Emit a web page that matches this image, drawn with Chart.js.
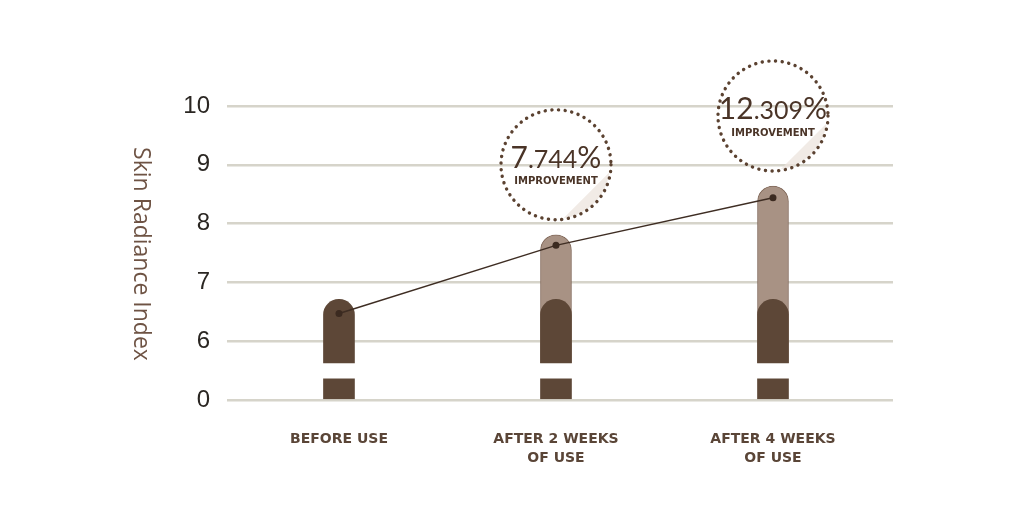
<!DOCTYPE html>
<html>
<head>
<meta charset="utf-8">
<script src="https://cdn.jsdelivr.net/npm/chart.js@4"></script>
<style>
  html, body { margin: 0; padding: 0; background: #fff; }
  #wrap { width: 1024px; height: 521px; }
</style>
</head>
<body>
<div id="wrap"><canvas id="myChart" width="1024" height="521"></canvas></div>
<script>
// data
const categories = [['BEFORE USE'], ['AFTER 2 WEEKS', 'OF USE'], ['AFTER 4 WEEKS', 'OF USE']];
const baselineTop = [6.71, 6.71, 6.71];      // dark part of each bar
const resultTop = [null, 7.81, 8.64];        // light part (after use)
const lineValues = [6.47, 7.63, 8.44];       // dots joined by the line
const improvements = [null, ['7', '.744', '%'], ['12', '.309', '%']];
const yTickLabels = ['0', '6', '7', '8', '9', '10'];

// broken axis: 0 sits one step below 6
const toAxis = v => (v === 0 ? 0 : v - 5);
const STUB_TOP = 0.36;     // short piece under the break
const BREAK_TOP = 0.63;    // where the upper piece starts

const DARK = '#5d4737';
const LIGHT = '#a89284';
const TEXT = '#4a3427';

const round = { topLeft: 16, topRight: 16, bottomLeft: 0, bottomRight: 0 };

const lightBars = resultTop.map((v, i) => v == null ? null : ({ x: i, y: [BREAK_TOP, toAxis(v)] })).filter(Boolean);
const darkBars = baselineTop.map((v, i) => ({ x: i, y: [BREAK_TOP, toAxis(v)] }));
const stubBars = categories.map((c, i) => ({ x: i, y: [0, STUB_TOP] }));
const linePts = lineValues.map((v, i) => ({ x: i, y: toAxis(v) }));

// rotated y title + dotted circles
const extras = {
  id: 'extras',
  afterDraw(chart) {
    const ctx = chart.ctx;
    const xs = chart.scales.x, ys = chart.scales.y;

    ctx.save();
    ctx.translate(141, 254);
    ctx.rotate(Math.PI / 2);
    ctx.fillStyle = '#6e5344';
    ctx.font = '23px "Open Sans"';
    ctx.textAlign = 'center';
    ctx.textBaseline = 'middle';
    ctx.fillText('Skin Radiance Index', 0, 0);
    ctx.restore();

    improvements.forEach((parts, i) => {
      if (!parts) return;
      const cx = xs.getPixelForValue(i);
      const cy = ys.getPixelForValue(toAxis(resultTop[i])) - 70;
      const r = 55;

      // light sheen in lower right
      ctx.save();
      ctx.beginPath();
      ctx.arc(cx, cy, r - 1, 0, Math.PI * 2);
      ctx.clip();
      ctx.beginPath();
      ctx.moveTo(cx + 2, cy + r + 4);
      ctx.lineTo(cx + r + 4, cy + 2);
      ctx.lineTo(cx + r + 30, cy + r + 30);
      ctx.closePath();
      ctx.fillStyle = 'rgba(236, 228, 222, 0.75)';
      ctx.fill();
      ctx.restore();

      // dotted ring
      ctx.save();
      ctx.beginPath();
      ctx.arc(cx, cy, r, 0, Math.PI * 2);
      ctx.strokeStyle = '#5b4231';
      ctx.lineWidth = 3.4;
      ctx.lineCap = 'round';
      ctx.setLineDash([0.1, 6.6]);
      ctx.stroke();
      ctx.restore();

      // number text: big / small / big
      ctx.save();
      ctx.fillStyle = TEXT;
      ctx.textBaseline = 'alphabetic';
      const big = '30px Lato', small = '25px Lato';
      ctx.font = big; const w0 = ctx.measureText(parts[0]).width;
      ctx.font = small; const w1 = ctx.measureText(parts[1]).width;
      ctx.font = big; const w2 = ctx.measureText(parts[2]).width;
      let x = cx - (w0 + w1 + w2) / 2;
      const by = cy + 3;
      ctx.textAlign = 'left';
      ctx.font = big; ctx.fillText(parts[0], x, by); x += w0;
      ctx.font = small; ctx.fillText(parts[1], x, by); x += w1;
      ctx.font = big; ctx.fillText(parts[2], x, by);
      ctx.font = 'bold 10px "DejaVu Sans"';
      ctx.textAlign = 'center';
      ctx.textBaseline = 'middle';
      ctx.fillText('IMPROVEMENT', cx, cy + 17);
      ctx.restore();
    });
  }
};

const ctx = document.getElementById('myChart').getContext('2d');
new Chart(ctx, {
  type: 'bar',
  data: {
    datasets: [
      {
        type: 'line',
        data: linePts,
        borderColor: '#3e2d23',
        borderWidth: 1.5,
        pointRadius: 3.5,
        pointBackgroundColor: '#3b2a20',
        pointBorderWidth: 0,
        order: 0
      },
      {
        data: darkBars,
        backgroundColor: DARK,
        borderRadius: round,
        borderSkipped: false,
        barThickness: 31,
        grouped: false,
        order: 1
      },
      {
        data: stubBars,
        backgroundColor: DARK,
        borderRadius: 0,
        barThickness: 31,
        grouped: false,
        order: 1
      },
      {
        data: lightBars,
        backgroundColor: LIGHT,
        borderColor: '#836b5d',
        borderWidth: 1,
        borderRadius: round,
        borderSkipped: 'start',
        barThickness: 31,
        grouped: false,
        order: 2
      }
    ]
  },
  options: {
    responsive: false,
    animation: false,
    layout: { padding: { top: 106, right: 131, left: 0, bottom: 0 } },
    plugins: { legend: { display: false }, tooltip: { enabled: false } },
    scales: {
      x: {
        type: 'linear',
        offset: false,
        min: -0.516,
        max: 2.553,
        afterBuildTicks: s => { s.ticks = categories.map((c, i) => ({ value: i })); },
        afterFit: s => { s.height = 121; },
        grid: { display: false, drawTicks: false },
        border: { display: false },
        ticks: {
          padding: 30,
          color: '#5a4537',
          font: { family: '"DejaVu Sans"', size: 14, weight: 'bold', lineHeight: 1.36 },
          callback: v => categories[v],
          maxRotation: 0
        }
      },
      y: {
        min: 0,
        max: 5,
        afterBuildTicks: s => { s.ticks = yTickLabels.map((t, i) => ({ value: i })); },
        afterFit: s => { s.width = 227; },
        grid: { color: '#d6d4ca', lineWidth: 2.5, drawTicks: false },
        border: { display: false },
        ticks: {
          padding: 17,
          color: '#2a2622',
          font: { family: '"Liberation Sans"', size: 24 },
          callback: (v, i) => yTickLabels[i]
        }
      }
    }
  },
  plugins: [extras]
});
</script>
</body>
</html>
